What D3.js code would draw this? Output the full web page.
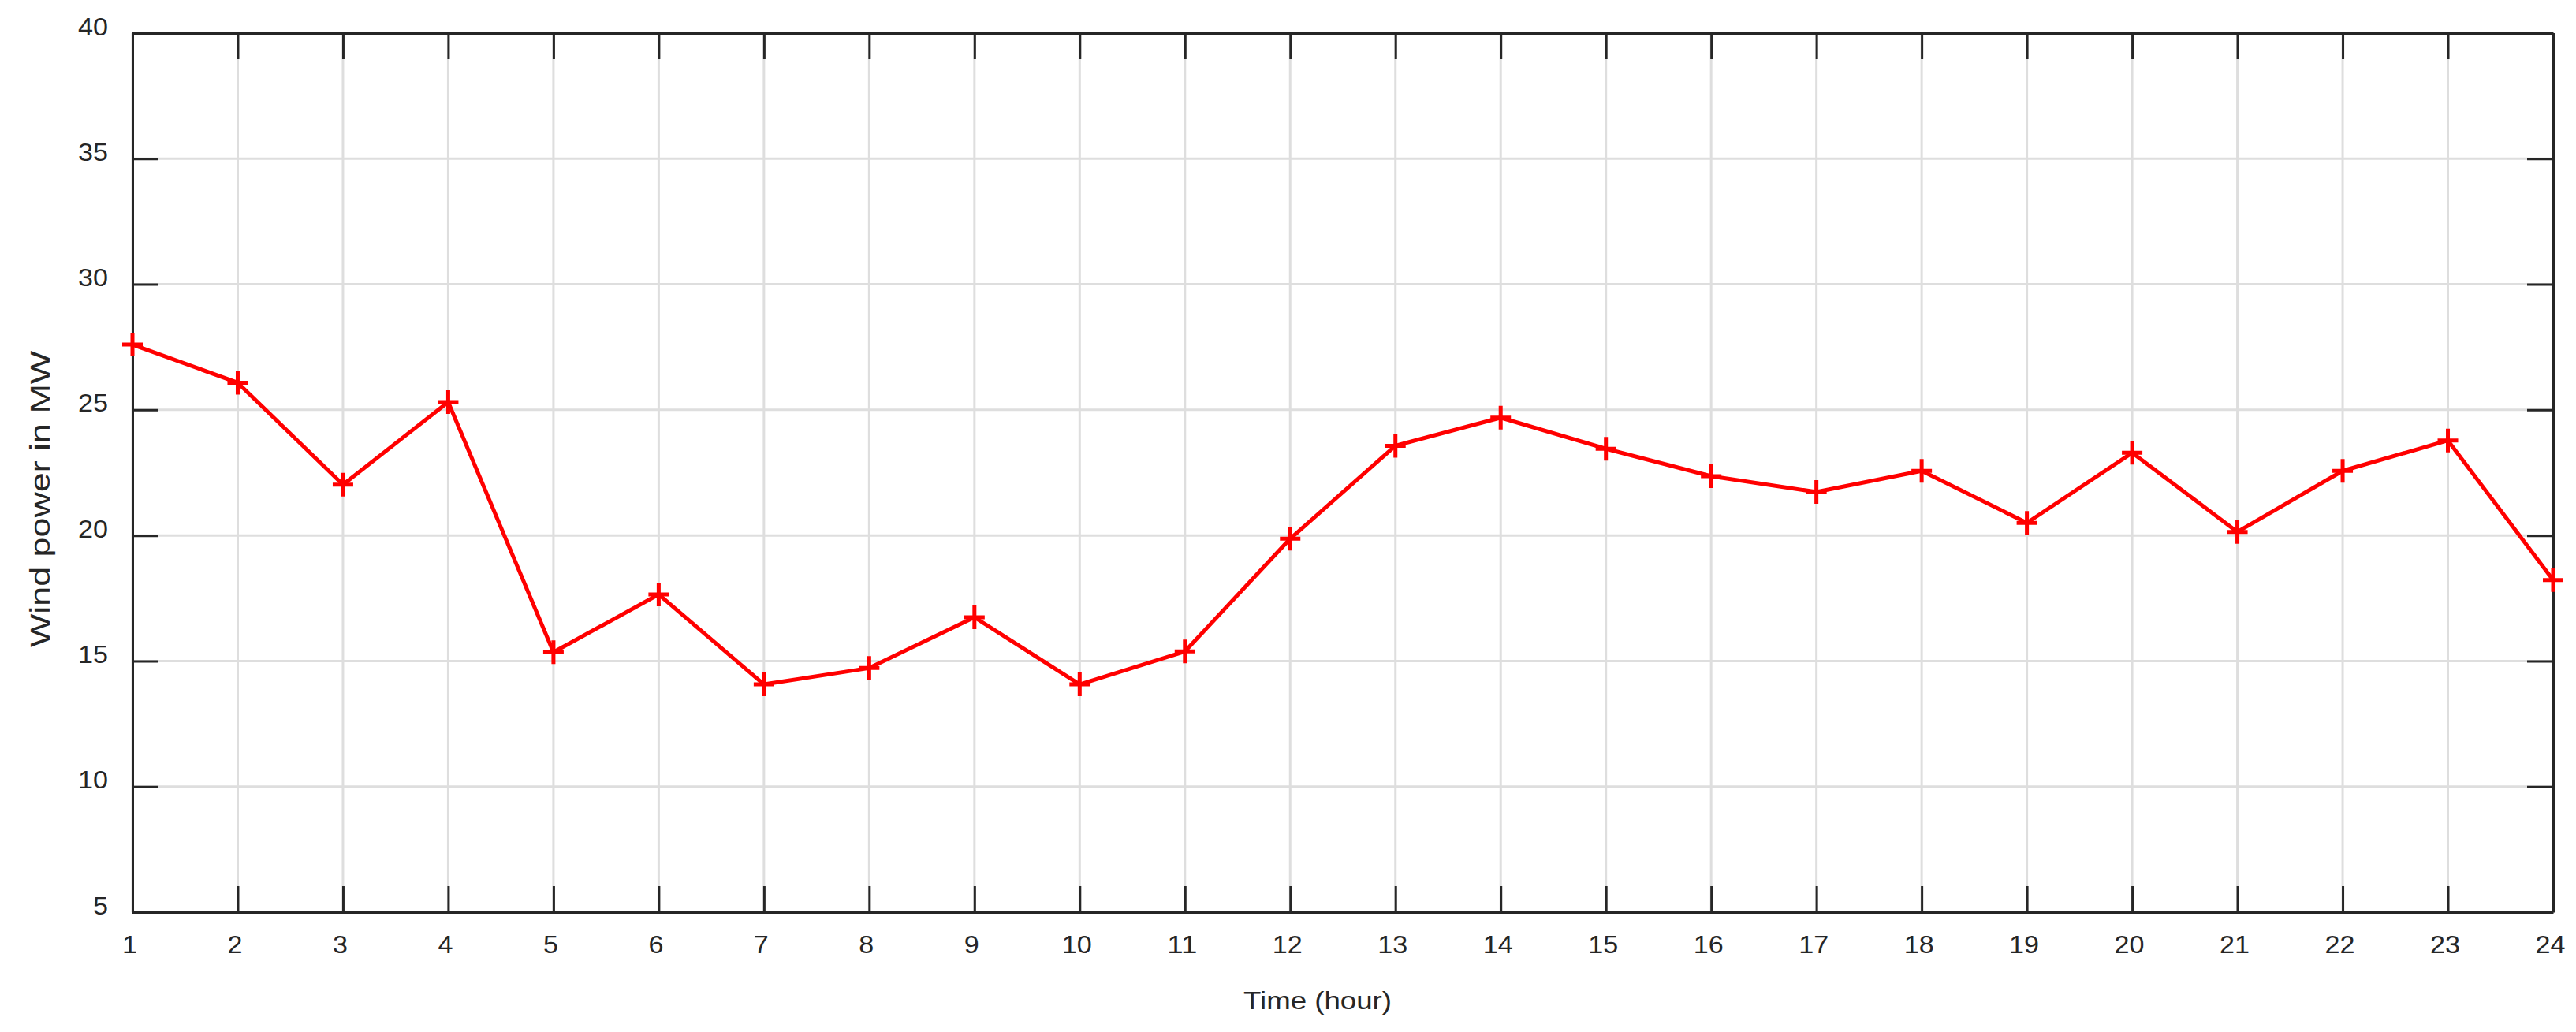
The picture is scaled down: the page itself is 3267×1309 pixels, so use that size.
<!DOCTYPE html>
<html><head><meta charset="utf-8">
<script src="https://cdn.jsdelivr.net/npm/d3@7"></script>
<style>body{margin:0;background:#fff}</style>
</head><body><svg id="c" width="3267" height="1309"></svg>
<script>
const hours = [1,2,3,4,5,6,7,8,9,10,11,12,13,14,15,16,17,18,19,20,21,22,23,24];
const windPower = [27.6,26.08,22.02,25.31,15.35,17.65,14.07,14.72,16.74,14.07,15.38,19.87,23.57,24.69,23.45,22.36,21.73,22.57,20.5,23.29,20.14,22.57,23.78,18.22];
const xTickValues = hours;
const yTickValues = [5,10,15,20,25,30,35,40];
const xTitle = "Time (hour)";
const yTitle = "Wind power in MW";

const svg = d3.select("#c");
const L = 168, R = 3238, T = 42, B = 1157;
const x = d3.scaleLinear().domain([1,24]).range([L,R]);
const y = d3.scaleLinear().domain([5,40]).range([B,T]);
const axisColor = "#262626";
const font = "'Liberation Sans', Arial, sans-serif";

// grid
const g = svg.append("g");
g.selectAll("line.vx").data(xTickValues).join("line")
  .attr("x1", d=>x(d)).attr("x2", d=>x(d)).attr("y1", T).attr("y2", B)
  .attr("stroke", "#dedede").attr("stroke-width", 3);
g.selectAll("line.hy").data(yTickValues).join("line")
  .attr("y1", d=>y(d)).attr("y2", d=>y(d)).attr("x1", L).attr("x2", R)
  .attr("stroke", "#dedede").attr("stroke-width", 3);

function styleAxis(sel){
  sel.select(".domain").attr("stroke", axisColor).attr("stroke-width", 3);
  sel.selectAll(".tick line").attr("stroke", axisColor).attr("stroke-width", 3);
  sel.selectAll(".tick text").attr("fill", axisColor)
    .style("font-family", font).style("font-size", "31px")
    .attr("textLength", function(){ return this.textContent.length * 19; })
    .attr("lengthAdjust", "spacingAndGlyphs");
}

const xb = svg.append("g").attr("transform", `translate(0,${B})`)
  .call(d3.axisBottom(x).tickValues(xTickValues).tickFormat(d3.format("d")).tickSizeInner(-33).tickSizeOuter(0).tickPadding(30));
styleAxis(xb);
xb.selectAll(".tick text").attr("dx", -4);
const xt = svg.append("g").attr("transform", `translate(0,${T})`)
  .call(d3.axisTop(x).tickValues(xTickValues).tickFormat("").tickSizeInner(-33).tickSizeOuter(0));
styleAxis(xt);
const yl = svg.append("g").attr("transform", `translate(${L},0)`)
  .call(d3.axisLeft(y).tickValues(yTickValues).tickFormat(d3.format("d")).tickSizeInner(-33).tickSizeOuter(0).tickPadding(31));
styleAxis(yl);
yl.selectAll(".tick text").attr("dy", 2);
const yr = svg.append("g").attr("transform", `translate(${R},0)`)
  .call(d3.axisRight(y).tickValues(yTickValues).tickFormat("").tickSizeInner(-33).tickSizeOuter(0));
styleAxis(yr);

// titles
svg.append("text").attr("x", 1671).attr("y", 1280).attr("text-anchor", "middle")
  .attr("fill", axisColor).style("font-family", font).style("font-size", "32px")
  .attr("textLength", 188).attr("lengthAdjust", "spacingAndGlyphs").text(xTitle);
svg.append("text").attr("transform", `translate(63,633) rotate(-90)`).attr("text-anchor", "middle")
  .attr("fill", axisColor).style("font-family", font).style("font-size", "35px")
  .attr("textLength", 376).attr("lengthAdjust", "spacingAndGlyphs").text(yTitle);

// data
const data = hours.map((h,i)=>({h, v: windPower[i]}));
svg.append("path").datum(data)
  .attr("fill", "none").attr("stroke", "#ff0000").attr("stroke-width", 5)
  .attr("stroke-linejoin", "round")
  .attr("d", d3.line().x(d=>x(d.h)).y(d=>y(d.v)));
svg.selectAll("path.mk").data(data).join("path")
  .attr("class", "mk")
  .attr("d", d=>`M${x(d.h)-13},${y(d.v)}H${x(d.h)+13}M${x(d.h)},${y(d.v)-15}V${y(d.v)+15}`)
  .attr("stroke", "#ff0000").attr("stroke-width", 5).attr("fill", "none");
</script></body></html>
